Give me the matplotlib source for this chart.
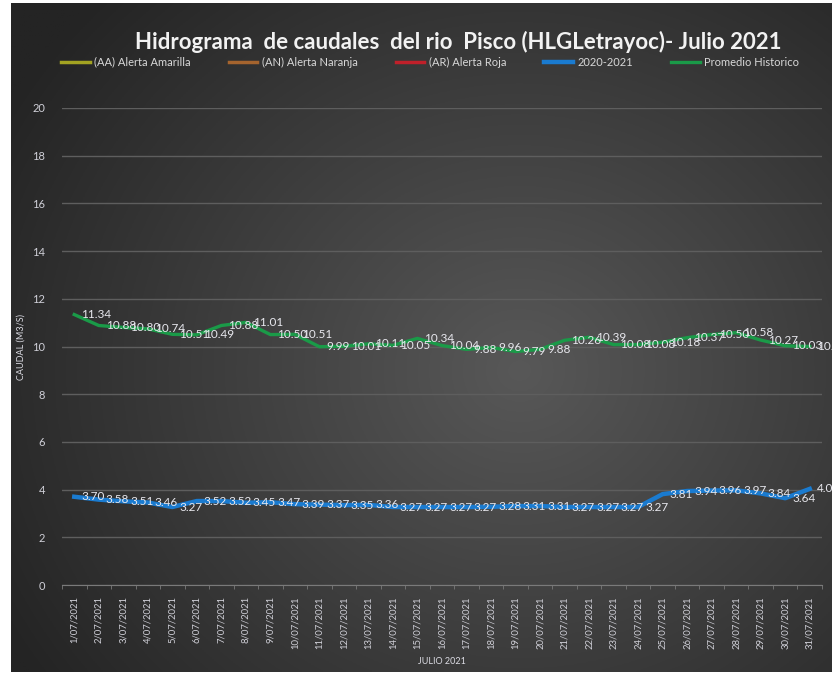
import numpy as np
import matplotlib
matplotlib.use('Agg')
import matplotlib.pyplot as plt

plt.rcParams['font.family'] = ['Lato', 'DejaVu Sans']

# Datos: caudales diarios julio 2021
dias = [f"{d}/07/2021" for d in range(1, 32)]

caudal_2020_2021 = [3.70, 3.58, 3.51, 3.46, 3.27, 3.52, 3.52, 3.45, 3.47, 3.39,
                    3.37, 3.35, 3.36, 3.27, 3.27, 3.27, 3.27, 3.28, 3.31, 3.31,
                    3.27, 3.27, 3.27, 3.27, 3.81, 3.94, 3.96, 3.97, 3.84, 3.64,
                    4.03]
promedio_historico = [11.34, 10.88, 10.80, 10.74, 10.51, 10.49, 10.88, 11.01, 10.50, 10.51,
                      9.99, 10.01, 10.11, 10.05, 10.34, 10.04, 9.88, 9.96, 9.79, 9.88,
                      10.26, 10.39, 10.08, 10.08, 10.18, 10.37, 10.50, 10.58, 10.27, 10.03,
                      10.00]
# umbrales de alerta (fuera del rango visible)
alerta_amarilla = []
alerta_naranja = []
alerta_roja = []

W, H = 832, 675
fig = plt.figure(figsize=(W / 100, H / 100), dpi=100, facecolor='white')

# fondo oscuro con degradado radial
bg = fig.add_axes([11 / W, 3 / H, 821 / W, 669 / H])
yy, xx = np.mgrid[0:1:300j, 0:1:400j]
r = np.sqrt(((xx - 0.62) / 0.72) ** 2 + ((yy - 0.55) / 0.8) ** 2)
r = np.clip(r, 0, 1)
c0, c1 = 0x58 / 255, 0x24 / 255
img = c0 + (c1 - c0) * r
bg.imshow(np.dstack([img, img, img]), aspect='auto', extent=[0, 1, 0, 1], origin='upper')
bg.set_axis_off()

ax = fig.add_axes([62 / W, (H - 585) / H, 760 / W, 477 / H])
ax.set_facecolor('none')

x = np.arange(1, 32)
ax.plot(alerta_amarilla, alerta_amarilla, color='#a3a322', lw=2.5, label='(AA) Alerta Amarilla')
ax.plot(alerta_naranja, alerta_naranja, color='#a5642e', lw=2.5, label='(AN) Alerta Naranja')
ax.plot(alerta_roja, alerta_roja, color='#c0202a', lw=2.5, label='(AR) Alerta Roja')
ax.plot(x, caudal_2020_2021, color='#1a7bd0', lw=3.2, label='2020-2021', zorder=3)
ax.plot(x, promedio_historico, color='#1a9a48', lw=2.4, label='Promedio Historico', zorder=3)

for xi, v in zip(x, caudal_2020_2021):
    ax.annotate(f"{v:.2f}", (xi, v), xytext=(5, 0), textcoords='offset points',
                ha='left', va='center', fontsize=8.5, color='#e8e8ee', zorder=4)
for xi, v in zip(x, promedio_historico):
    ax.annotate(f"{v:.2f}", (xi, v), xytext=(5, 0), textcoords='offset points',
                ha='left', va='center', fontsize=8.5, color='#e8e8ee', zorder=4,
                annotation_clip=False)

ax.set_xlim(0.5, 31.5)
ax.set_ylim(0, 20)
ax.set_yticks(range(0, 21, 2))
ax.grid(axis='y', color='#5e5e5e', lw=1)
ax.set_axisbelow(True)
for s in ['top', 'right', 'left']:
    ax.spines[s].set_visible(False)
ax.spines['bottom'].set_color('#7a7a7a')

ax.set_xticks(x)
ax.set_xticklabels(dias, rotation=90, fontsize=6.8, color='#d0d0d8')
ax.set_xticks(np.arange(0.5, 32, 1), minor=True)
ax.tick_params(axis='x', which='major', length=0, pad=8)
ax.tick_params(axis='x', which='minor', length=3, color='#7a7a7a')
ax.tick_params(axis='y', length=0, pad=12, labelsize=8, labelcolor='#d0d0d8')

ax.set_ylabel('CAUDAL (M3/S)', fontsize=6.5, color='#dcdce4', labelpad=5)
ax.set_xlabel('JULIO 2021', fontsize=6.5, color='#dcdce4', labelpad=6)

fig.text(458 / W, 1 - 42 / H, 'Hidrograma  de caudales  del rio  Pisco (HLGLetrayoc)- Julio 2021',
         ha='center', va='center', fontsize=16, fontweight='bold', color='#f2f2f2')

leg = fig.legend(loc='center', bbox_to_anchor=(430 / W, 1 - 62 / H), ncol=5, frameon=False,
                 fontsize=8, handlelength=2.6, columnspacing=3.4, handletextpad=0.4)
for t in leg.get_texts():
    t.set_color('#d8d8d8')

fig.savefig('out.png', dpi=100, facecolor='white')
